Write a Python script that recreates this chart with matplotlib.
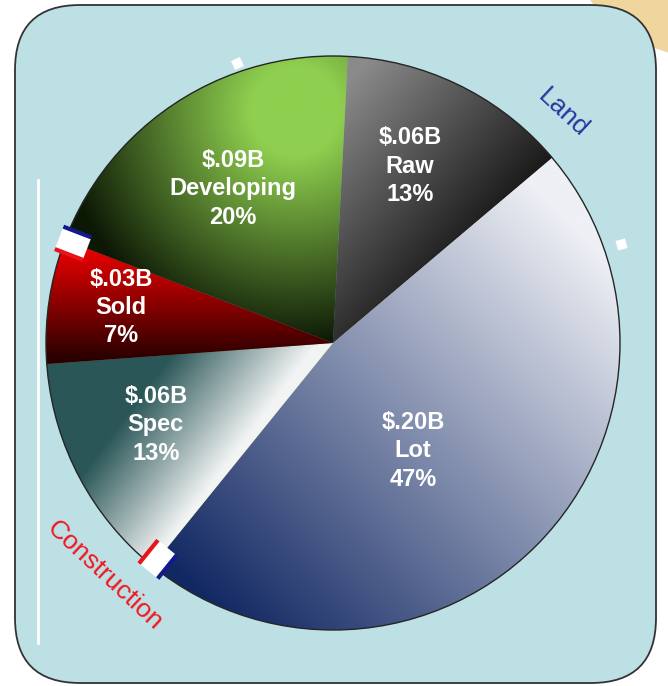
import numpy as np
import matplotlib
matplotlib.use('Agg')
import matplotlib.pyplot as plt
from matplotlib.patches import FancyBboxPatch, Circle, Ellipse, Polygon
from matplotlib.colors import to_rgb

# данные диаграммы
categories = ['Raw', 'Lot', 'Spec', 'Sold', 'Developing']
amounts = ['$.06B', '$.20B', '$.06B', '$.03B', '$.09B']
shares = [13, 47, 13, 7, 20]
groups = ['Land', 'Construction']

# геометрия в пикселях картинки
W, H = 668, 686
CX, CY, R = 333, H - 343, 287
START = 87


def py(y):
    # экранная y (сверху вниз) -> y данных
    return H - y


# градиенты секторов: вид, точки (экранные), цвета
grads = {
    'Raw': ('lin', (355, 75), (530, 235), '#8a8a8a', '#060606'),
    'Lot': ('lin', (565, 215), (195, 590), '#eef0f5', '#122863'),
    'Spec': ('lin', (150, 383), (238, 449), '#2a5657', '#f2f4f4'),
    'Sold': ('lin', (90, 248), (90, 358), '#ec0000', '#2a0000'),
    'Developing': ('rad', (295, 110), (45, 235), '#8fcf4f', '#0c1805'),
}
# положение подписи: доля радиуса и сдвиг угла от середины сектора
label_pos = {'Raw': (0.672, 2.9), 'Lot': (0.468, -9.0), 'Spec': (0.68, -2.8),
             'Sold': (0.748, -1.1), 'Developing': (0.64, 0.0)}

fig = plt.figure(figsize=(W / 100, H / 100), dpi=100)
ax = fig.add_axes([0, 0, 1, 1])

# желтое пятно в углу
ax.add_patch(Ellipse((720, py(-60)), 300, 240, fc='#efd69c', ec='none', zorder=0))

# фон - скругленный прямоугольник
ax.add_patch(FancyBboxPatch((15, py(683)), 641, 678,
                            boxstyle='round,pad=0,rounding_size=65',
                            fc='#bde0e4', ec='#333333', lw=1.3, zorder=0.5))
ax.plot([38, 38], [py(180), py(643)], color='white', lw=2, zorder=1)

wedges, _ = ax.pie(shares, radius=R, center=(CX, CY), startangle=START,
                   counterclock=False, wedgeprops=dict(linewidth=0))


def gradient(wedge, kind, p0, p1, c0, c1):
    xs = np.linspace(CX - R, CX + R, 400)
    ys = np.linspace(CY - R, CY + R, 400)
    X, Y = np.meshgrid(xs, ys)
    x0, y0 = p0[0], py(p0[1])
    if kind == 'lin':
        x1, y1 = p1[0], py(p1[1])
        dx, dy = x1 - x0, y1 - y0
        t = ((X - x0) * dx + (Y - y0) * dy) / (dx * dx + dy * dy)
    else:
        # радиальный: p1 = (радиус начала, радиус конца)
        d = np.hypot(X - x0, Y - y0)
        t = (d - p1[0]) / (p1[1] - p1[0])
    t = np.clip(t, 0, 1)
    a, b = np.array(to_rgb(c0)), np.array(to_rgb(c1))
    img = a + t[..., None] * (b - a)
    im = ax.imshow(img, extent=(CX - R, CX + R, CY - R, CY + R), origin='lower',
                   interpolation='bilinear', zorder=2)
    im.set_clip_path(wedge)


for w, cat in zip(wedges, categories):
    w.set_zorder(1)
    gradient(w, *grads[cat])

ax.add_patch(Circle((CX, CY), R, fill=False, ec='#262626', lw=1.0, zorder=3))

# подписи секторов
bounds = START - 3.6 * np.concatenate([[0], np.cumsum(shares)])
for i, cat in enumerate(categories):
    frac, shift = label_pos[cat]
    mid = np.radians((bounds[i] + bounds[i + 1]) / 2 + shift)
    r = R * frac
    ax.text(CX + r * np.cos(mid), CY + r * np.sin(mid),
            f'{amounts[i]}\n{cat}\n{shares[i]}%', ha='center', va='center',
            color='white', fontweight='bold', fontsize=17, linespacing=1.29,
            family='Liberation Sans', zorder=5)


# маркеры на границах групп
def marker(theta, land_side):
    th = np.radians(theta)
    u = np.array([np.cos(th), np.sin(th)])
    v = np.array([-np.sin(th), np.cos(th)])
    c = np.array([CX, CY]) + 0.97 * R * u
    hl, hw = 15, 10.5
    pts = [c - hl * u - hw * v, c + hl * u - hw * v, c + hl * u + hw * v, c - hl * u + hw * v]
    ax.add_patch(Polygon(pts, closed=True, fc='white', ec='none', zorder=6))
    for side, col in ((land_side, '#141a8c'), (-land_side, '#e8141c')):
        a = c - hl * u + side * (hw + 1.5) * v
        b = c + hl * u + side * (hw + 1.5) * v
        ax.plot([a[0], b[0]], [a[1], b[1]], color=col, lw=3, solid_capstyle='butt', zorder=6)


marker(bounds[2], 1)
marker(bounds[4], -1)

# белые квадратики
for ang, rr, rot in ((109, 1.03, 25), (19, 1.06, 15)):
    th = np.radians(ang)
    ax.plot(CX + rr * R * np.cos(th), CY + rr * R * np.sin(th), marker=(4, 0, 45 + rot),
            ms=10, mfc='white', mec='none', zorder=6)

# подписи групп
for name, ang, rot, col in ((groups[0], 45, -43, '#2a36a0'), (groups[1], -134.5, -43, '#f01820')):
    th = np.radians(ang)
    ax.text(CX + 1.135 * R * np.cos(th), CY + 1.135 * R * np.sin(th), name,
            rotation=rot, ha='center', va='center', color=col, fontsize=19,
            family='Liberation Sans', rotation_mode='anchor', zorder=6)

ax.set_xlim(0, W)
ax.set_ylim(0, H)
ax.set_aspect('auto')
ax.axis('off')
fig.savefig('out.png', dpi=100)
